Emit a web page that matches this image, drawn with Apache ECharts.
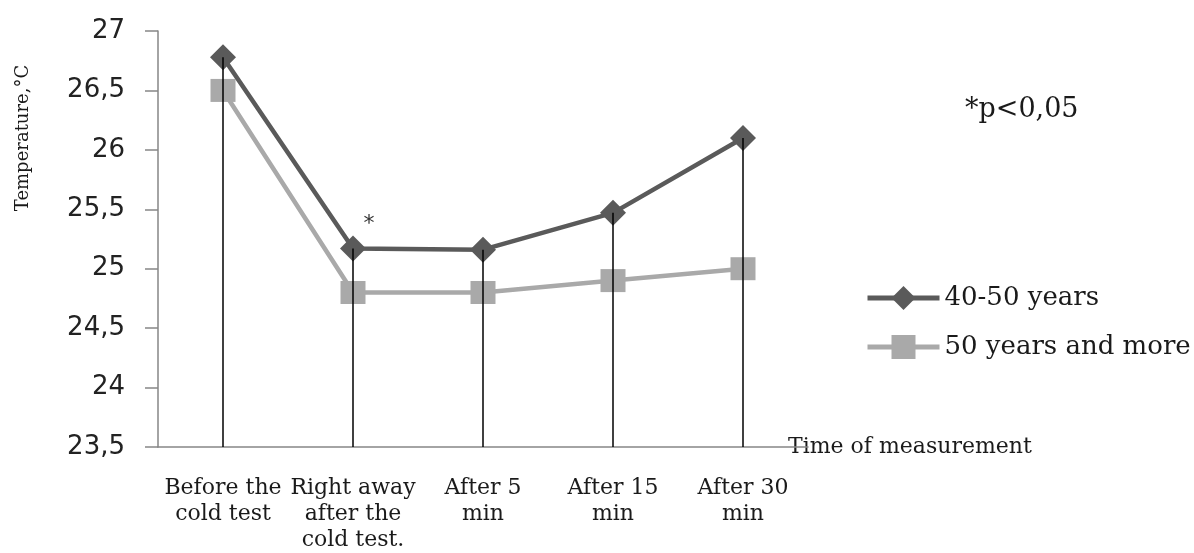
<!DOCTYPE html>
<html>
<head>
<meta charset="utf-8">
<script src="https://cdn.jsdelivr.net/npm/echarts@6/dist/echarts.min.js"></script>
<style>
  html, body { margin: 0; padding: 0; background: #fff; }
  #chart { width: 1194px; height: 553px; }
</style>
</head>
<body>
<div id="chart"></div>
<script>
const categories = [
  "Before the\ncold test",
  "Right away\nafter the\ncold test.",
  "After 5\nmin",
  "After 15\nmin",
  "After 30\nmin"
];
const seriesNames = ["40-50 years", "50 years and more"];
const group4050 = [26.78, 25.17, 25.16, 25.47, 26.10];
const group50plus = [26.50, 24.80, 24.80, 24.90, 25.00];
const yMin = 23.5, yMax = 27, yStep = 0.5;
const significantIndex = 1;

const serif = "DejaVu Serif";
const darkColor = '#5a5a5a', lightColor = '#a9a9a9';
const dropTops = categories.map((c, i) => Math.max(group4050[i], group50plus[i]));

const chart = echarts.init(document.getElementById('chart'));
chart.setOption({
  animation: false,
  backgroundColor: '#fff',
  grid: { left: 158, right: 386, top: 31, bottom: 102 },
  xAxis: {
    type: 'category',
    data: categories,
    boundaryGap: true,
    axisLine: { lineStyle: { color: '#868686', width: 1.5 } },
    axisTick: { show: false },
    axisLabel: {
      interval: 0, margin: 28,
      fontFamily: serif, fontSize: 22, lineHeight: 26, color: '#1a1a1a'
    },
    name: 'Time of measurement',
    nameLocation: 'end',
    nameGap: -20,
    nameTextStyle: {
      fontFamily: serif, fontSize: 22, color: '#1a1a1a',
      backgroundColor: '#fff', verticalAlign: 'middle', align: 'left'
    },
    splitLine: { show: false }
  },
  yAxis: {
    type: 'value',
    min: yMin, max: yMax, interval: yStep,
    axisLine: { show: true, lineStyle: { color: '#868686', width: 1.5 } },
    axisTick: { show: true, length: 13, lineStyle: { color: '#868686', width: 1.5 } },
    axisLabel: {
      margin: 33, fontFamily: 'DejaVu Sans', fontSize: 26, color: '#222',
      formatter: v => String(v).replace('.', ',')
    },
    splitLine: { show: false }
  },
  legend: {
    orient: 'vertical',
    left: 860, top: 278,
    data: [
      { name: seriesNames[0], lineStyle: { width: 5, color: darkColor } },
      { name: seriesNames[1], lineStyle: { width: 5, color: lightColor } }
    ],
    itemWidth: 72, itemHeight: 30, itemGap: 19,
    textStyle: { fontFamily: serif, fontSize: 26, color: '#1a1a1a', lineHeight: 30 }
  },
  graphic: [
    {
      type: 'text', x: 23, y: 138, rotation: Math.PI / 2,
      style: { text: 'Temperature,°C', font: '18px "DejaVu Serif"', fill: '#1a1a1a',
               textAlign: 'center', textVerticalAlign: 'middle' }
    },
    {
      type: 'text', left: 965, top: 96,
      style: { text: '*p<0,05', font: '27px "DejaVu Serif"', fill: '#1a1a1a' }
    }
  ],
  series: [
    {
      name: seriesNames[1], type: 'line', data: group50plus, z: 2,
      symbol: 'rect', symbolSize: [25, 23],
      lineStyle: { color: lightColor, width: 4.5 },
      itemStyle: { color: lightColor }
    },
    {
      name: seriesNames[0], type: 'line', data: group4050, z: 3,
      symbol: 'diamond', symbolSize: [26, 26],
      lineStyle: { color: darkColor, width: 4.5 },
      itemStyle: { color: darkColor },
      markPoint: {
        symbol: 'circle', symbolSize: 0, silent: true,
        data: [{ coord: [significantIndex, group4050[significantIndex]] }],
        label: { show: true, formatter: '*', position: 'inside', offset: [16, -24],
                 fontFamily: 'DejaVu Sans', fontSize: 22, color: '#333' }
      }
    },
    {
      type: 'line', data: [], z: 10, silent: true,
      markLine: {
        silent: true, symbol: 'none', animation: false,
        label: { show: false },
        lineStyle: { color: '#000', width: 1.5, type: 'solid' },
        data: dropTops.map((t, i) => [{ coord: [i, t] }, { coord: [i, yMin] }])
      }
    }
  ]
});
</script>
</body>
</html>
